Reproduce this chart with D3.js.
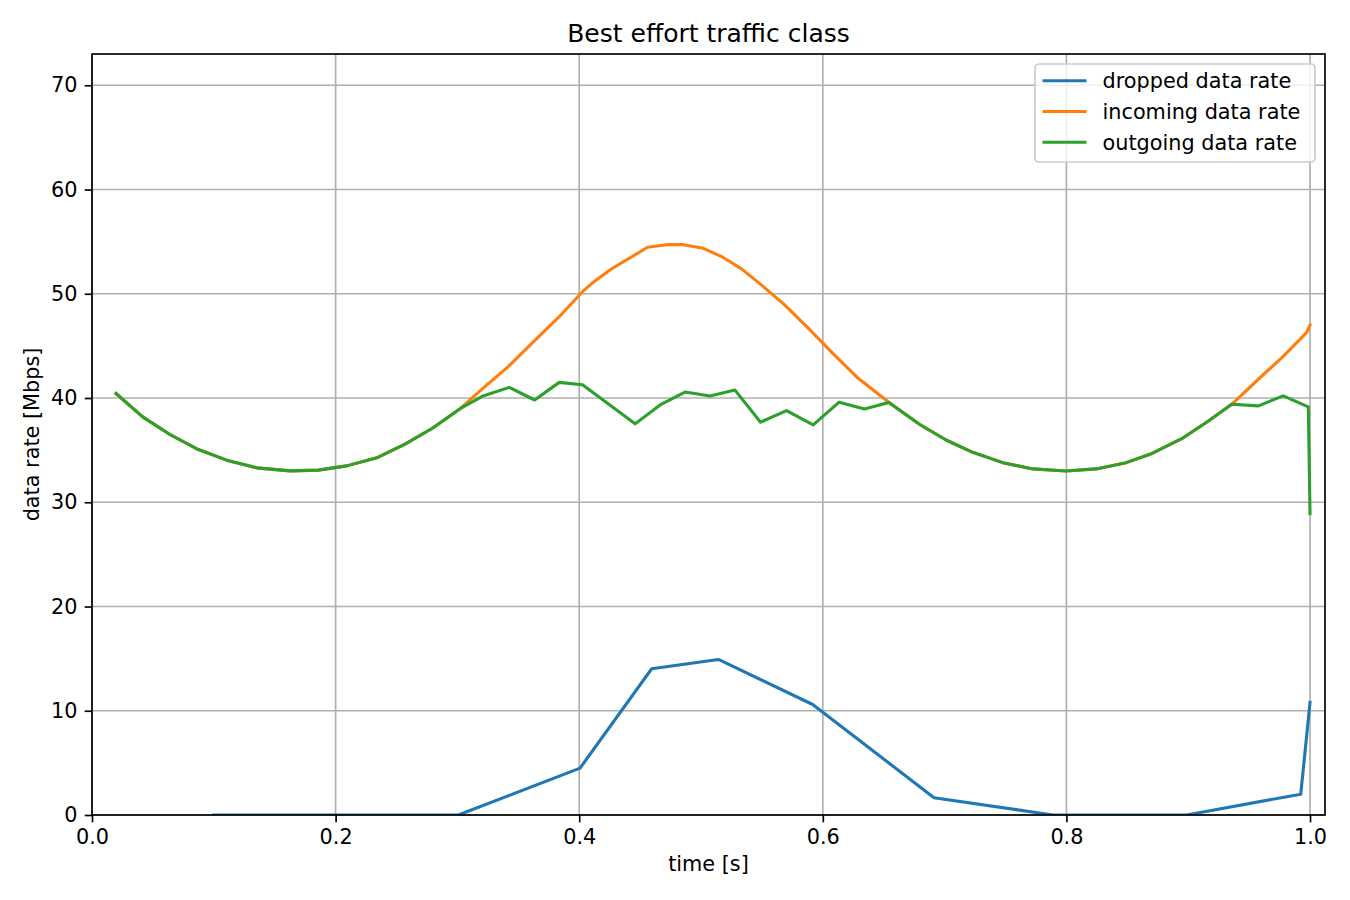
<!DOCTYPE html>
<html>
<head>
<meta charset="utf-8">
<style>
  body { margin: 0; background: #fff; }
  text { font-family: "DejaVu Sans", sans-serif; fill: #000; }
</style>
</head>
<body>
<script src="https://cdn.jsdelivr.net/npm/d3@7"></script>
<script>

  const width = 1350,
        height = 900
  const margin = {left: 92, top: 54, right: 25, bottom: 85}
  const innerW = width - margin.left - margin.right,
        innerH = height - margin.top - margin.bottom

  const colors = {dropped: '#1f77b4', incoming: '#ff7f0e', outgoing: '#2ca02c'}
  const fontSize = 20.8

  // dropped data rate
  const droppedTime = [0.1, 0.2, 0.3008, 0.4007, 0.4595, 0.5143, 0.5917, 0.6913, 0.789, 0.8987, 0.9924, 1.0]
  const droppedRate = [0, 0, 0, 4.5, 14.03, 14.92, 10.6, 1.66, 0, 0, 2.0, 10.8]

  // incoming data rate
  const incomingTime = [0.0197, 0.0416, 0.064, 0.0873, 0.1106, 0.1352, 0.1626, 0.1858, 0.2091, 0.2346,
    0.257, 0.2795, 0.3025, 0.3216, 0.3426, 0.3634, 0.3836, 0.4027, 0.4104, 0.4254, 0.4561, 0.4719,
    0.4855, 0.5019, 0.5169, 0.5333, 0.548, 0.568, 0.588, 0.608, 0.628, 0.6542, 0.6793, 0.7012, 0.7231,
    0.7477, 0.7724, 0.7997, 0.8244, 0.849, 0.8686, 0.8947, 0.9166, 0.9357, 0.9576, 0.978, 0.9973, 1.0]
  const incomingRate = [40.43, 38.19, 36.5, 35.06, 34.04, 33.3, 33.01, 33.08, 33.49, 34.3,
    35.57, 37.1, 39.0, 41.0, 43.1, 45.5, 47.8, 50.2, 51.0, 52.3, 54.46, 54.71,
    54.71, 54.36, 53.57, 52.39, 51.0, 49.0, 46.7, 44.3, 42.0, 39.6, 37.48, 35.97, 34.79,
    33.8, 33.2, 33.0, 33.2, 33.8, 34.6, 36.1, 37.8, 39.4, 41.8, 44.0, 46.3, 47.0]

  // outgoing data rate
  const outgoingTime = [0.0197, 0.0416, 0.064, 0.0873, 0.1106, 0.1352, 0.1626, 0.1858, 0.2091, 0.2346,
    0.257, 0.2795, 0.3025, 0.3216, 0.3426, 0.3634, 0.3836, 0.4027, 0.4459, 0.4664, 0.4869, 0.5074,
    0.5279, 0.5489, 0.5702, 0.5921, 0.6134, 0.6342, 0.6542, 0.6793, 0.7012, 0.7231, 0.7477, 0.7724,
    0.7997, 0.8244, 0.849, 0.8686, 0.8947, 0.9166, 0.9357, 0.9576, 0.978, 0.9986, 1.0]
  const outgoingRate = [40.43, 38.19, 36.5, 35.06, 34.04, 33.3, 33.01, 33.08, 33.49, 34.3,
    35.57, 37.1, 39.0, 40.22, 41.02, 39.81, 41.5, 41.27, 37.52, 39.33, 40.57, 40.19,
    40.76, 37.68, 38.79, 37.42, 39.6, 38.95, 39.58, 37.48, 35.97, 34.79, 33.8, 33.2,
    33.0, 33.2, 33.8, 34.6, 36.1, 37.8, 39.4, 39.25, 40.2, 39.15, 28.9]

  const xTicks = [0, 0.2, 0.4, 0.6, 0.8, 1.0]
  const yTicks = [0, 10, 20, 30, 40, 50, 60, 70]

  const series = [
    {name: 'dropped data rate', color: colors.dropped, t: droppedTime, v: droppedRate},
    {name: 'incoming data rate', color: colors.incoming, t: incomingTime, v: incomingRate},
    {name: 'outgoing data rate', color: colors.outgoing, t: outgoingTime, v: outgoingRate},
  ]

  const xScale = d3.scaleLinear()
    .domain([0, 1.0123])
    .range([0, innerW])

  const yScale = d3.scaleLinear()
    .domain([0, 73])
    .range([innerH, 0])

  const svg = d3.select("body")
    .append("svg")
      .attr("width", width)
      .attr("height", height)

  const chart = svg.append("g")
    .attr("transform", `translate(${margin.left}, ${margin.top})`)

  // grid
  chart.append("g")
    .selectAll("line")
    .data(xTicks)
    .enter().append("line")
      .attr("x1", d => xScale(d)).attr("x2", d => xScale(d))
      .attr("y1", 0).attr("y2", innerH)
      .attr("stroke", "#b0b0b0").attr("stroke-width", 1.67)
  chart.append("g")
    .selectAll("line")
    .data(yTicks)
    .enter().append("line")
      .attr("x1", 0).attr("x2", innerW)
      .attr("y1", d => yScale(d)).attr("y2", d => yScale(d))
      .attr("stroke", "#b0b0b0").attr("stroke-width", 1.67)

  // lines
  const line = d3.line()
    .x(d => xScale(d[0]))
    .y(d => yScale(d[1]))

  svg.append("clipPath").attr("id", "clip")
    .append("rect").attr("width", innerW).attr("height", innerH)

  chart.append("g")
    .attr("clip-path", "url(#clip)")
    .selectAll("path")
    .data(series)
    .enter().append("path")
      .attr("d", s => line(s.t.map((t, i) => [t, s.v[i]])))
      .attr("fill", "none")
      .attr("stroke", s => s.color)
      .attr("stroke-width", 3.1)
      .attr("stroke-linejoin", "round")
      .attr("stroke-linecap", "square")

  // axes
  const xAxis = d3.axisBottom(xScale)
    .tickValues(xTicks)
    .tickFormat(d3.format(".1f"))
    .tickSize(7.3)
    .tickPadding(7.3)
  const yAxis = d3.axisLeft(yScale)
    .tickValues(yTicks)
    .tickSize(7.3)
    .tickPadding(7.3)

  const gx = chart.append("g")
    .attr("transform", `translate(0, ${innerH})`)
    .call(xAxis)
  const gy = chart.append("g")
    .call(yAxis)

  for (const g of [gx, gy]) {
    g.select(".domain").remove()
    g.selectAll(".tick line").attr("stroke", "#000").attr("stroke-width", 1.67)
    g.selectAll(".tick text")
      .style("font-family", "DejaVu Sans")
      .style("font-size", fontSize + "px")
      .attr("fill", "#000")
  }

  // frame
  chart.append("rect")
    .attr("width", innerW)
    .attr("height", innerH)
    .attr("fill", "none")
    .attr("stroke", "#000")
    .attr("stroke-width", 1.67)

  // labels
  svg.append("text")
    .attr("x", margin.left + innerW / 2)
    .attr("y", 42)
    .style("text-anchor", "middle")
    .style("font-size", "25px")
    .text("Best effort traffic class")

  svg.append("text")
    .attr("x", margin.left + innerW / 2)
    .attr("y", 871)
    .style("text-anchor", "middle")
    .style("font-size", fontSize + "px")
    .text("time [s]")

  svg.append("text")
    .attr("transform", `translate(39, ${margin.top + innerH / 2}) rotate(-90)`)
    .style("text-anchor", "middle")
    .style("font-size", fontSize + "px")
    .text("data rate [Mbps]")

  // legend
  const legend = svg.append("g")
    .attr("transform", `translate(1035, 64)`)

  legend.append("rect")
    .attr("x", 0).attr("y", 0)
    .attr("width", 280).attr("height", 98)
    .attr("rx", 4)
    .attr("fill", "rgba(255,255,255,0.8)")
    .attr("stroke", "#cccccc")
    .attr("stroke-width", 1.67)

  const items = legend.selectAll(".item")
    .data(series)
    .enter().append("g")
      .attr("class", "item")
      .attr("transform", (d, i) => `translate(0, ${16.7 + i * 30.8})`)

  items.append("line")
    .attr("x1", 7.5).attr("x2", 51.5)
    .attr("y1", 0).attr("y2", 0)
    .attr("stroke", d => d.color)
    .attr("stroke-width", 3.1)
  items.append("text")
    .attr("x", 67.5)
    .attr("y", 7.6)
    .style("font-size", fontSize + "px")
    .text(d => d.name)

</script>
</body>
</html>
